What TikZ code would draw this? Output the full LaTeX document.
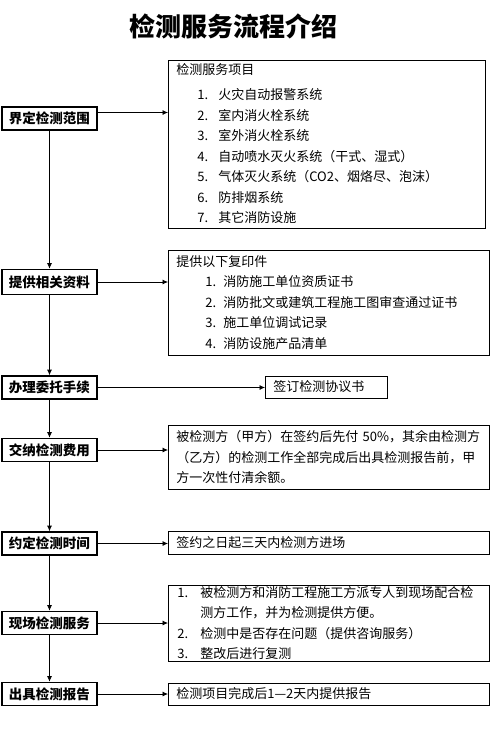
\documentclass[tikz,border=0pt]{standalone}
\usepackage{fontspec}
\setmainfont{Noto Sans CJK SC}
\usepackage{tikz}
\usetikzlibrary{arrows.meta,positioning,calc}
\tikzset{
  stage/.style={draw,line width=1.6pt,minimum width=95pt,minimum height=23pt,
                inner sep=0pt,font=\bfseries\fontsize{13.5}{16}\selectfont},  % 左侧流程步骤
  note/.style={draw,line width=0.7pt,anchor=west,align=left,inner xsep=8pt,
               inner ysep=0pt,font=\fontsize{13}{20.5}\selectfont},            % 右侧说明框
  ar/.style={-{Latex[length=5.5pt,width=5pt]},line width=0.7pt}
}
\newcommand{\entry}[3]{\hspace*{#1}\makebox[#2][l]{#3.}}

\begin{document}
\begin{tikzpicture}[x=1pt,y=-1pt]
  \useasboundingbox (0,0) rectangle (490,729);
  \node[font=\bfseries\fontsize{26}{30}\selectfont] (title) at (233,26) {检测服务流程介绍};

  % 流程步骤
  \node[stage] (scope) at (49.5,118.5) {界定检测范围};
  \node[stage,minimum height=25pt] (docs) at (49.5,282) {提供相关资料};
  \node[stage] (entrust) at (49.5,387.5) {办理委托手续};
  \node[stage] (fee) at (49.5,450) {交纳检测费用};
  \node[stage] (sched) at (49.5,543.5) {约定检测时间};
  \node[stage] (onsite) at (49.5,623) {现场检测服务};
  \node[stage] (report) at (49.5,694) {出具检测报告};

  % 说明
  \node[note,text width=301pt,minimum height=168pt] (items) at (168,144)
    {检测服务项目\\[4.5pt]
     \entry{21pt}{21pt}{1}火灾自动报警系统\\
     \entry{21pt}{21pt}{2}室内消火栓系统\\
     \entry{21pt}{21pt}{3}室外消火栓系统\\
     \entry{21pt}{21pt}{4}自动喷水灭火系统（干式、湿式）\\
     \entry{21pt}{21pt}{5}气体灭火系统（CO2、烟烙尽、泡沫）\\
     \entry{21pt}{21pt}{6}防排烟系统\\
     \entry{21pt}{21pt}{7}其它消防设施};
  \node[note,text width=305pt,minimum height=105pt] (copies) at (168,302.5)
    {提供以下复印件\\
     \entry{29pt}{18pt}{1}消防施工单位资质证书\\
     \entry{29pt}{18pt}{2}消防批文或建筑工程施工图审查通过证书\\
     \entry{29pt}{18pt}{3}施工单位调试记录\\
     \entry{29pt}{18pt}{4}消防设施产品清单};
  \node[note,text width=106pt,minimum height=22pt] (agree) at (265,387) {签订检测协议书};
  \node[note,text width=305pt,minimum height=64pt] (pay) at (168,457)
    {被检测方（甲方）在签约后先付 50\%，其余由检测方\\
     （乙方）的检测工作全部完成后出具检测报告前，甲\\
     方一次性付清余额。};
  \node[note,text width=305pt,minimum height=23pt] (date) at (168,542.5) {签约之日起三天内检测方进场};
  \node[note,text width=305pt,minimum height=76pt] (work) at (168,623)
    {\entry{1pt}{23pt}{1}被检测方和消防工程施工方派专人到现场配合检\\
     \hspace*{24pt}测方工作，并为检测提供方便。\\
     \entry{1pt}{23pt}{2}检测中是否存在问题（提供咨询服务）\\
     \entry{1pt}{23pt}{3}整改后进行复测};
  \node[note,text width=305pt,minimum height=22pt] (issue) at (168,694) {检测项目完成后1—2天内提供报告};

  % 连线
  \draw[ar] ([yshift=6pt]scope.east) -- ([yshift=6pt]scope.east -| items.west);
  \foreach \a/\b in {docs/copies,entrust/agree,fee/pay,sched/date,onsite/work,report/issue}
    \draw[ar] (\a.east) -- (\a.east -| \b.west);
  \foreach \a/\b in {scope/docs,docs/entrust,entrust/fee,fee/sched,sched/onsite,onsite/report}
    \draw[ar] (\a.south) -- (\b.north);
\end{tikzpicture}
\end{document}
